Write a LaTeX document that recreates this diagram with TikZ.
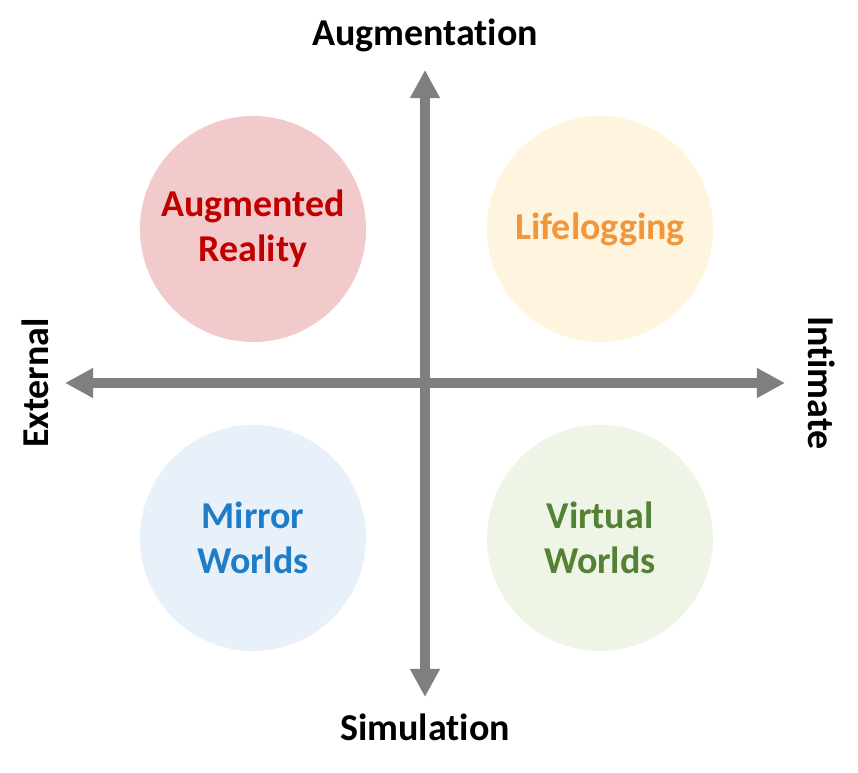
\documentclass[tikz,border=0pt]{standalone}
\usepackage{fontspec}
\setmainfont{Carlito}[Ligatures=NoCommon]
\usetikzlibrary{arrows.meta}
\definecolor{axisgray}{HTML}{7F7F7F}
\definecolor{arfill}{HTML}{F2CACC}
\definecolor{artext}{HTML}{C00000}
\definecolor{lffill}{HTML}{FFF5DE}
\definecolor{lftext}{HTML}{F0963C}
\definecolor{mwfill}{HTML}{E8F1F9}
\definecolor{mwtext}{HTML}{1F7DC8}
\definecolor{vwfill}{HTML}{EEF5E6}
\definecolor{vwtext}{HTML}{548235}
\begin{document}
\begin{tikzpicture}[x=0.025cm,y=-0.025cm,
  world/.style={circle,minimum size=5.65cm,inner sep=0pt,align=center,font=\fontsize{27}{32}\selectfont\bfseries},
  axislabel/.style={font=\fontsize{27}{32}\selectfont\bfseries},
  axis/.style={draw=axisgray,line width=0.25cm,-{Triangle[length=0.7cm,width=0.7cm]}}]
\useasboundingbox (0,0) rectangle (858,773);
\coordinate (o) at (425,383);
\coordinate (top) at (425,70);
\coordinate (bottom) at (425,697);
\coordinate (left) at (65,383);
\coordinate (right) at (785,383);
\node[world,fill=arfill,text=artext] (ar) at (253,229) {Augmented\\Reality};
\node[world,fill=lffill,text=lftext] (lf) at (600,229) {Lifelogging};
\node[world,fill=mwfill,text=mwtext] (mw) at (253,538) {Mirror\\Worlds};
\node[world,fill=vwfill,text=vwtext] (vw) at (600,538) {Virtual\\Worlds};
\draw[axis] (o) -- (top);
\draw[axis] (o) -- (bottom);
\draw[axis] (o) -- (left);
\draw[axis] (o) -- (right);
\node[axislabel] (aug) at (425,35) {Augmentation};
\node[axislabel] (sim) at (425,727) {Simulation};
\node[axislabel,rotate=90] (ext) at (35,383) {External};
\node[axislabel,rotate=-90] (int) at (822,383) {Intimate};
\end{tikzpicture}
\end{document}
